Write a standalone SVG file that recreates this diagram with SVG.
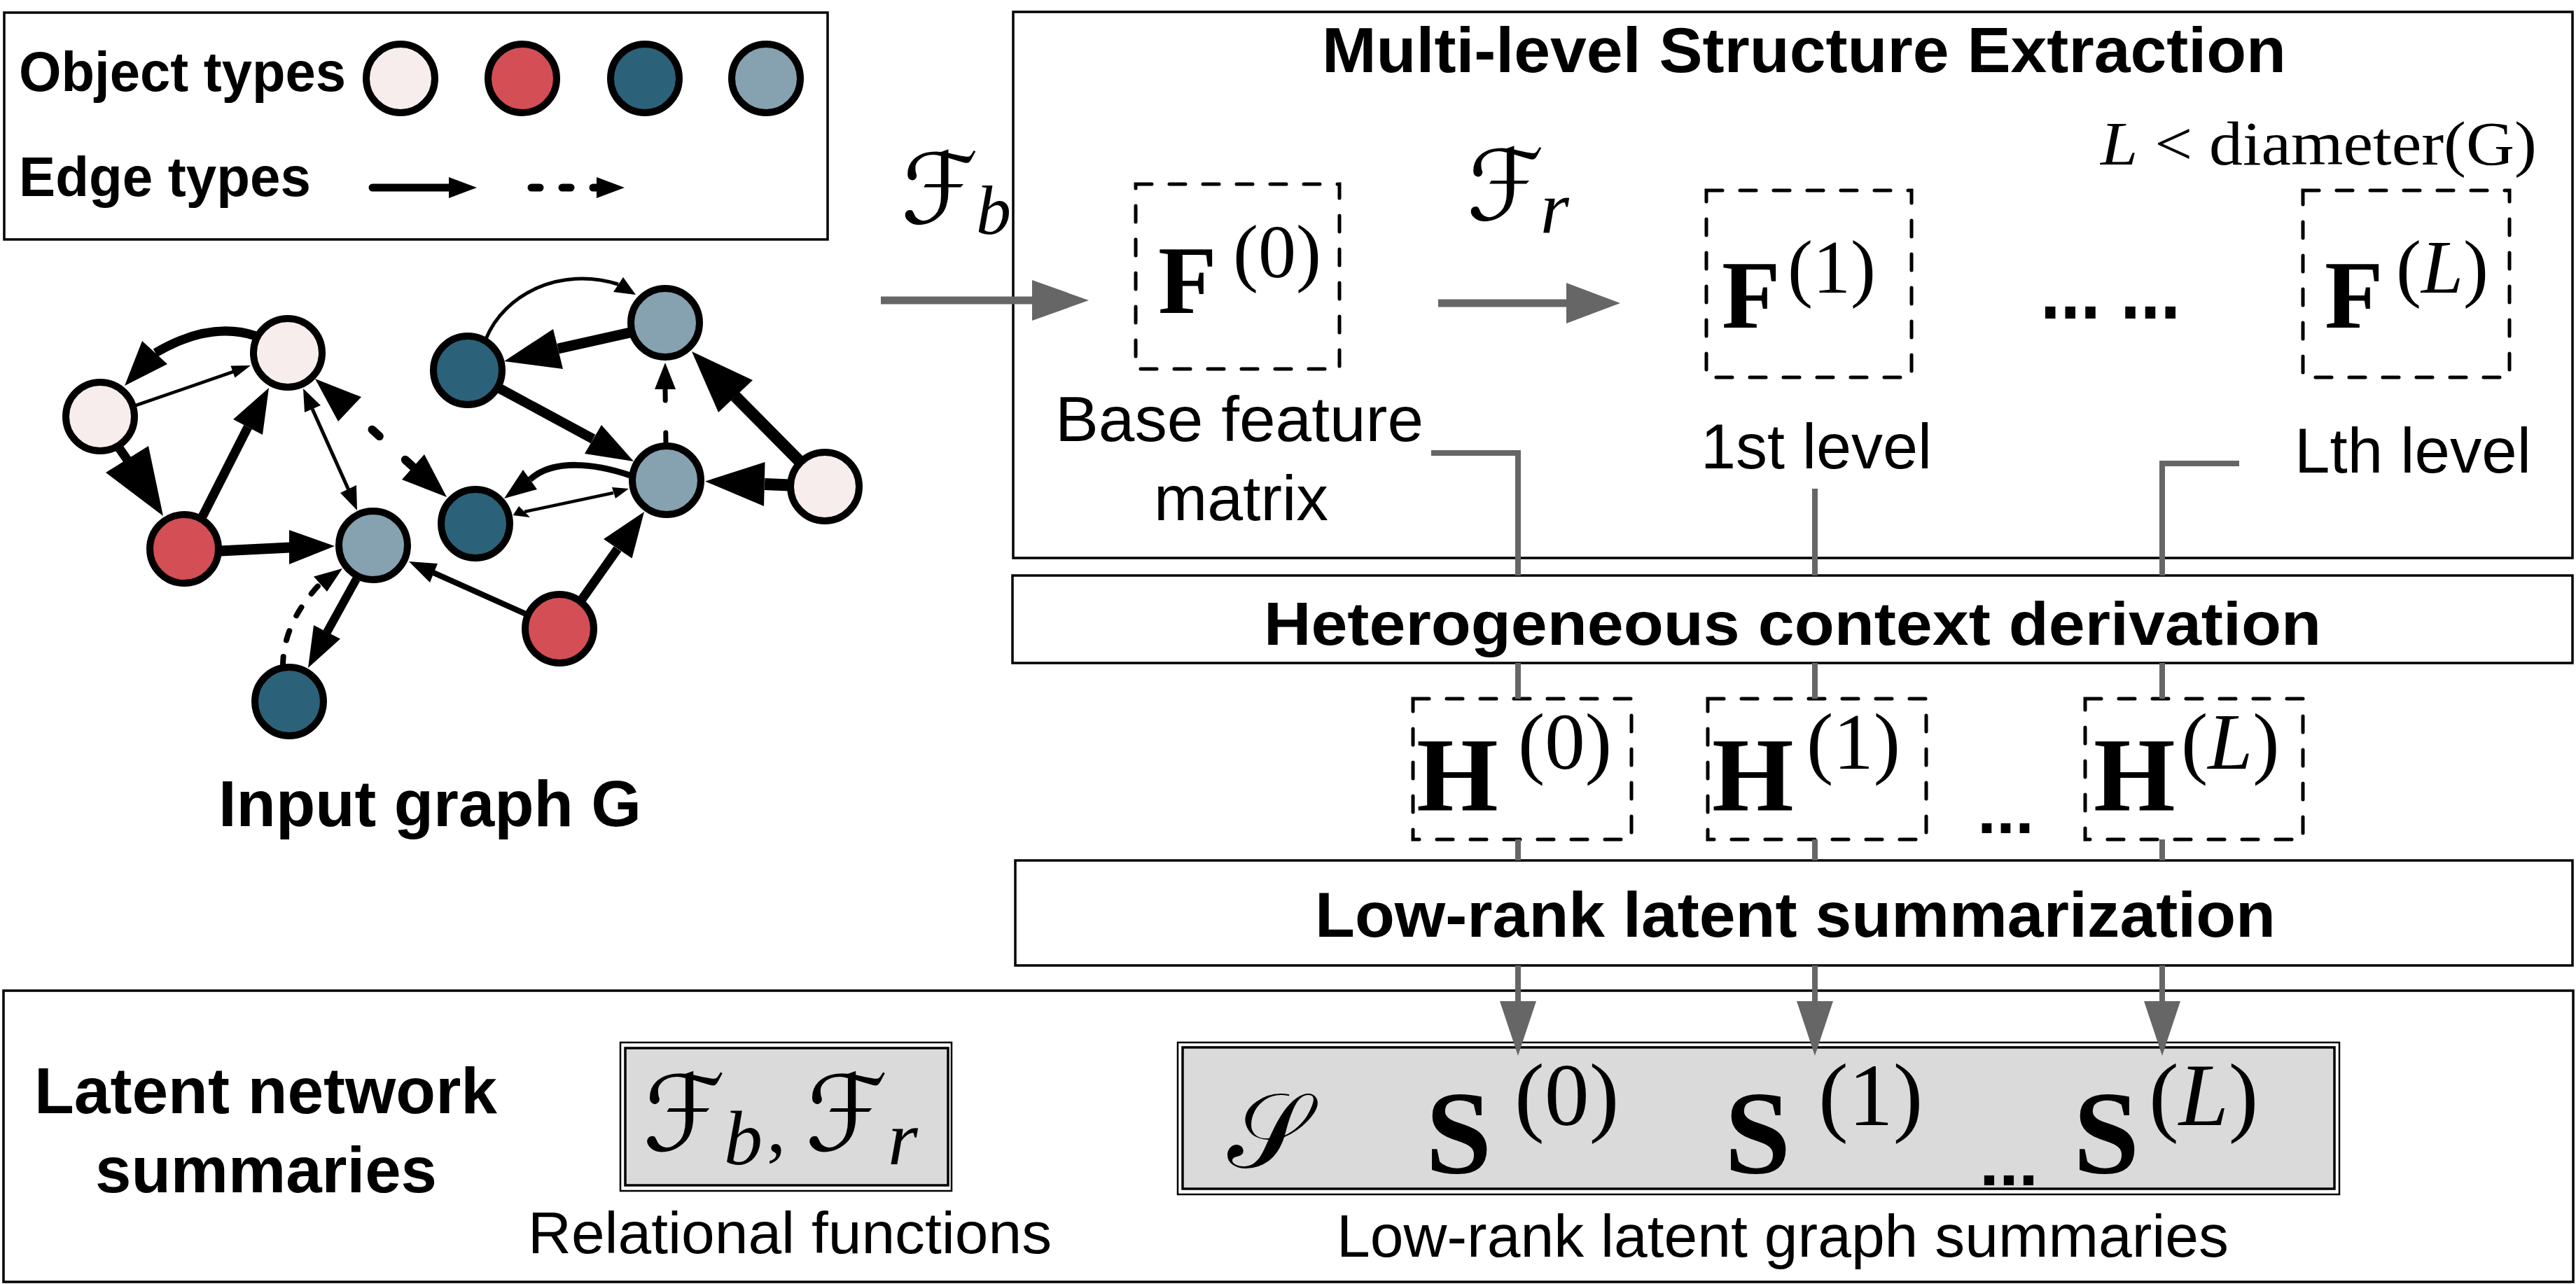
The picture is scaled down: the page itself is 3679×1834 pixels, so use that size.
<svg xmlns="http://www.w3.org/2000/svg" width="3679" height="1834" viewBox="0 0 3679 1834">
<style>
.box{fill:#fff;stroke:#000;stroke-width:3.5}
.dbox{fill:#fff;stroke:#000;stroke-width:5;stroke-dasharray:23 25;stroke-linecap:round}
.t{font-family:"Liberation Sans",Arial,Helvetica,sans-serif;fill:#000}
.b{font-weight:bold}
.m{font-family:"Liberation Serif","Times New Roman",serif;fill:#000}
.mb{font-family:"Liberation Serif","Times New Roman",serif;font-weight:bold;fill:#000}
.sc{font-family:"DejaVu Serif","DejaVu Sans","Noto Sans",serif;fill:#000}
.i{font-style:italic}
.n{stroke:#000;stroke-width:10}
.pk{fill:#F7EDEC}.rd{fill:#D44E56}.tl{fill:#2B6279}.gb{fill:#86A1AF}
.e{stroke:#000;fill:none}
.h{fill:#000;stroke:none}
.g{stroke:#666;stroke-width:8;fill:none}
.ga{stroke:#666;stroke-width:11;fill:none}
.gh{fill:#666;stroke:none}
.gray{fill:#DADADA;stroke:#000;stroke-width:3.5}
.outer{fill:#fff;stroke:#000;stroke-width:2.5}
</style>

<g id="legend">
<rect class="box" x="6" y="18" width="1176" height="324"/>
<text class="t b" x="27" y="130" font-size="80" textLength="467" lengthAdjust="spacingAndGlyphs">Object types</text>
<circle class="n pk" cx="572" cy="112" r="49"/>
<circle class="n rd" cx="746" cy="112" r="49"/>
<circle class="n tl" cx="921" cy="112" r="49"/>
<circle class="n gb" cx="1094" cy="112" r="49"/>
<text class="t b" x="27" y="280" font-size="80" textLength="417" lengthAdjust="spacingAndGlyphs">Edge types</text>
<path class="e" d="M532,268 L645,268" stroke-width="11" stroke-linecap="round"/>
<polygon class="h" points="641,253 681,268 641,283"/>
<path class="e" d="M759,268 L852,268" stroke-width="11" stroke-linecap="round" stroke-dasharray="12 32"/>
<polygon class="h" points="852,253 892,268 852,283"/>
</g>

<g id="node-A"><circle class="n pk" cx="411" cy="504" r="49"/></g>
<g id="node-B"><circle class="n pk" cx="143" cy="595" r="49"/></g>
<g id="node-C"><circle class="n rd" cx="263" cy="784" r="49"/></g>
<g id="node-D"><circle class="n gb" cx="533" cy="779" r="49"/></g>
<g id="node-E"><circle class="n tl" cx="413" cy="1002" r="49"/></g>
<g id="node-F"><circle class="n tl" cx="668" cy="529" r="49"/></g>
<g id="node-G"><circle class="n gb" cx="950" cy="461" r="49"/></g>
<g id="node-H"><circle class="n tl" cx="679" cy="748" r="49"/></g>
<g id="node-I"><circle class="n gb" cx="952" cy="686" r="49"/></g>
<g id="node-J"><circle class="n pk" cx="1178" cy="695" r="49"/></g>
<g id="node-K"><circle class="n rd" cx="799" cy="898" r="49"/></g>
<g id="graph-label"><text class="t b" x="312" y="1180" font-size="92" textLength="604" lengthAdjust="spacingAndGlyphs">Input graph G</text></g>

<g id="multilevel">
<rect class="box" x="1447" y="17" width="2227" height="780"/>
<text class="t b" x="1888" y="103" font-size="90" textLength="1377" lengthAdjust="spacingAndGlyphs">Multi-level Structure Extraction</text>
<text class="m" x="3000" y="235" font-size="88" textLength="623" lengthAdjust="spacingAndGlyphs"><tspan class="i">L</tspan> &lt; diameter(G)</text>
<text class="t" x="2914" y="455" font-size="115" font-weight="bold" textLength="200" lengthAdjust="spacingAndGlyphs">... ...</text>
</g>

<g id="F0">
<rect class="dbox" x="1622" y="263" width="291" height="264"/>
<text class="mb" x="1654" y="447" font-size="137">F<tspan class="m" x="1761" y="396" font-size="108" font-weight="normal">(0)</tspan></text>
<text class="t" x="1507" y="630" font-size="90" textLength="526" lengthAdjust="spacingAndGlyphs">Base feature</text>
<text class="t" x="1648" y="743" font-size="90" textLength="249" lengthAdjust="spacingAndGlyphs">matrix</text>
</g>
<g id="F1">
<rect class="dbox" x="2437" y="272" width="293" height="267"/>
<text class="mb" x="2459" y="468" font-size="137">F<tspan class="m" x="2553" y="418" font-size="108" font-weight="normal">(1)</tspan></text>
<text class="t" x="2429" y="669" font-size="90" textLength="330" lengthAdjust="spacingAndGlyphs">1st level</text>
</g>
<g id="FL">
<rect class="dbox" x="3289" y="272" width="295" height="267"/>
<text class="mb" x="3320" y="468" font-size="137">F<tspan class="m" x="3422" y="418" font-size="108" font-weight="normal">(<tspan class="i">L</tspan>)</tspan></text>
<text class="t" x="3277" y="675" font-size="90" textLength="338" lengthAdjust="spacingAndGlyphs">Lth level</text>
</g>

<g id="Fb-label">
<text class="sc" x="1287" y="319" font-size="140">ℱ<tspan class="m i" x="1394" y="334" font-size="100">b</tspan></text>
</g>
<g id="Fr-label">
<text class="sc" x="2095" y="314" font-size="140">ℱ<tspan class="m i" x="2200" y="332" font-size="105">r</tspan></text>
</g>

<g id="hetero">
<rect class="box" x="1446" y="822" width="2228" height="125"/>
<text class="t b" x="1805" y="921" font-size="88" textLength="1510" lengthAdjust="spacingAndGlyphs">Heterogeneous context derivation</text>
</g>
<g id="H0">
<rect class="dbox" x="2018" y="998" width="312" height="201"/>
<text class="mb" x="2023" y="1158" font-size="150">H<tspan class="m" x="2168" y="1098" font-size="115" font-weight="normal">(0)</tspan></text>
</g>
<g id="H1">
<rect class="dbox" x="2439" y="998" width="312" height="201"/>
<text class="mb" x="2445" y="1158" font-size="150">H<tspan class="m" x="2580" y="1098" font-size="115" font-weight="normal">(1)</tspan></text>
</g>
<text class="t b" x="2824" y="1190" font-size="95" textLength="81" lengthAdjust="spacingAndGlyphs">...</text>
<g id="HL">
<rect class="dbox" x="2978" y="998" width="311" height="201"/>
<text class="mb" x="2990" y="1158" font-size="150">H<tspan class="m" x="3115" y="1098" font-size="115" font-weight="normal">(<tspan class="i">L</tspan>)</tspan></text>
</g>

<g id="lowrank">
<rect class="box" x="1450" y="1229" width="2224" height="150"/>
<text class="t b" x="1878" y="1338" font-size="90" textLength="1372" lengthAdjust="spacingAndGlyphs">Low-rank latent summarization</text>
</g>

<g id="summaries">
<rect class="box" x="5" y="1415" width="3670" height="416"/>
<text class="t b" x="49" y="1590" font-size="92" textLength="661" lengthAdjust="spacingAndGlyphs">Latent network</text>
<text class="t b" x="136" y="1703" font-size="92" textLength="488" lengthAdjust="spacingAndGlyphs">summaries</text>
</g>
<g id="relational">
<rect class="outer" x="886" y="1489" width="473" height="212"/>
<rect class="gray" x="893" y="1497" width="461" height="196"/>
<text class="sc" x="918" y="1643" font-size="150">ℱ<tspan class="m i" x="1034" y="1663" font-size="110">b</tspan><tspan class="m" x="1095" y="1645" font-size="110">,</tspan><tspan x="1150" y="1643">ℱ</tspan><tspan class="m i" x="1268" y="1663" font-size="110">r</tspan></text>
<text class="t" x="754" y="1790" font-size="84" textLength="748" lengthAdjust="spacingAndGlyphs">Relational functions</text>
</g>
<g id="graph-summaries">
<rect class="outer" x="1682" y="1489" width="1659" height="217"/>
<rect class="gray" x="1689" y="1496" width="1645" height="202"/>
<text class="sc" x="1753" y="1667" font-size="150">𝒮</text>
<text class="mb" x="2036" y="1675" font-size="170">S<tspan class="m" x="2163" y="1607" font-size="128" font-weight="normal">(0)</tspan></text>
<text class="mb" x="2463" y="1675" font-size="170">S<tspan class="m" x="2597" y="1607" font-size="128" font-weight="normal">(1)</tspan></text>
<text class="t b" x="2827" y="1693" font-size="95" textLength="84" lengthAdjust="spacingAndGlyphs">...</text>
<text class="mb" x="2961" y="1675" font-size="170">S<tspan class="m" x="3069" y="1607" font-size="128" font-weight="normal">(<tspan class="i">L</tspan>)</tspan></text>
<text class="t" x="1909" y="1795" font-size="85" textLength="1274" lengthAdjust="spacingAndGlyphs">Low-rank latent graph summaries</text>
</g>

<g id="connectors">
<g id="graph-edges">
<path class="e" d="M366,480 Q300,458 222,504" stroke-width="13"/>
<polygon class="h" points="178,551 203,487 239,520"/>
<path class="e" d="M194,579 L333,531" stroke-width="4.5"/>
<polygon class="h" points="358,522 335.5,539.5 329.5,522.5"/>
<path class="e" d="M166,634 L182,657" stroke-width="13"/>
<polygon class="h" points="233,737 151,675 212,637"/>
<path class="e" d="M287,742 L354,610" stroke-width="13"/>
<polygon class="h" points="384,554 333,599 375,621"/>
<path class="e" d="M314,787 L414,782" stroke-width="15"/>
<polygon class="h" points="478,780 413,757 413,806"/>
<path class="e" d="M446,584 L498,700" stroke-width="5"/>
<polygon class="h" points="433,555 435,589 458,579"/>
<polygon class="h" points="510,729 486,704 509,693"/>
<path class="e" d="M499,584 L590,667" stroke-width="12" stroke-linecap="round" stroke-dasharray="14 50" stroke-dashoffset="20"/>
<polygon class="h" points="450,541 483,602 516,567"/>
<polygon class="h" points="638,710 574,685 606,649"/>
<path class="e" d="M509,827 L467,903" stroke-width="12"/>
<polygon class="h" points="440,954 448,893 486,912.5"/>
<path class="e" d="M404,952 Q404,890 457,834" stroke-width="8" stroke-linecap="round" stroke-dasharray="14 24"/>
<polygon class="h" points="489,812 448,823.5 467,845"/>
<path class="e" d="M751,877 L619,818" stroke-width="8"/>
<polygon class="h" points="584,802 625,805 614,832"/>
<path class="e" d="M829,859 L882,784" stroke-width="13"/>
<polygon class="h" points="920,731 862,770 902.6,797.5"/>
<path class="e" d="M694,484 C720,420 800,380 883,406" stroke-width="5"/>
<polygon class="h" points="908,421 876,417 890,396"/>
<path class="e" d="M900,475 L797,498" stroke-width="15"/>
<polygon class="h" points="720,516 790,470 804,527"/>
<path class="e" d="M712,554 L847,627" stroke-width="14"/>
<polygon class="h" points="905,659 835,648 859,607"/>
<path class="e" d="M951,634 L950,556" stroke-width="7" stroke-linecap="round" stroke-dasharray="16 46 16"/>
<polygon class="h" points="950,518 935,556 965,556"/>
<path class="e" d="M1145,662 L1050,566" stroke-width="17"/>
<polygon class="h" points="988,502 1026,589 1075,543"/>
<path class="e" d="M1128,693 L1092,691.5" stroke-width="17"/>
<polygon class="h" points="1007,687.5 1092.5,660 1091,723"/>
<path class="e" d="M900,679 C850,662 790,655 757,685" stroke-width="9"/>
<polygon class="h" points="720,712 747,671 767,699"/>
<path class="e" d="M749,731 L876,704" stroke-width="4.5"/>
<polygon class="h" points="732.6,736 741,723 757,739"/>
<polygon class="h" points="898,698 874,696 879,712"/>
</g>
<g id="pipeline-connectors">
<path class="ga" d="M1258,429 L1476,429"/>
<polygon class="gh" points="1474,400 1555,429 1474,458"/>
<path class="ga" d="M2054,433 L2239,433"/>
<polygon class="gh" points="2237,404 2314,433 2237,462"/>
<path class="g" d="M2044,647 H2168 V822 M2168,947 V998 M2168,1199 V1229 M2168,1379 V1440"/>
<polygon class="gh" points="2142,1430 2168,1508 2194,1430"/>
<path class="g" d="M2592,698 V822 M2592,947 V998 M2592,1199 V1229 M2592,1379 V1440"/>
<polygon class="gh" points="2566,1430 2592,1508 2618,1430"/>
<path class="g" d="M3198,662 H3088 V822 M3088,947 V998 M3088,1199 V1229 M3088,1379 V1440"/>
<polygon class="gh" points="3062,1430 3088,1508 3114,1430"/>
</g>
</g>
</svg>
